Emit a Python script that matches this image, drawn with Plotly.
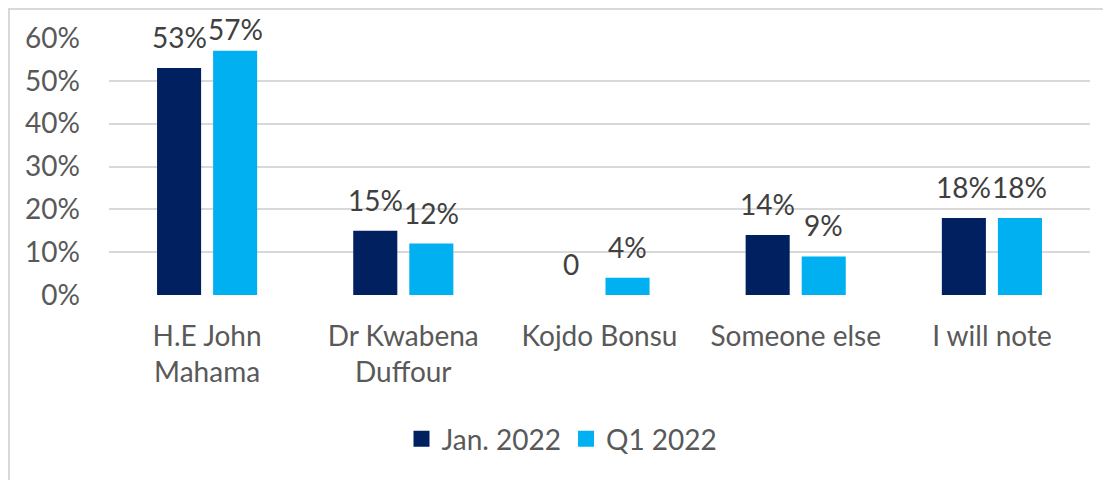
import plotly.graph_objects as go

categories = ["H.E John<br>Mahama", "Dr Kwabena<br>Duffour", "Kojdo Bonsu", "Someone else", "I will note"]
series_names = ["Jan. 2022", "Q1 2022"]
jan_values = [0.53, 0.15, 0.0, 0.14, 0.18]
q1_values = [0.57, 0.12, 0.04, 0.09, 0.18]
jan_labels = ["53%", "15%", "0", "14%", "18%"]
q1_labels = ["57%", "12%", "4%", "9%", "18%"]
y_tickvals = [0, 0.1, 0.2, 0.3, 0.4, 0.5, 0.6]
y_ticktext = ["0%", "10%", "20%", "30%", "40%", "50%", "60%"]

NAVY = "#002060"
SKY = "#00B0F0"
TEXT = "#595959"
LABEL = "#404040"
GRID = "#D9D9D9"
FONT = "Lato"
FS = 28

# the page body adds an 8px offset, so the figure is sized to fit inside the window
W, H = 1103, 472
ML, MR, MT, MB = 101, 21, 30, 185
BARGAP = 0.4286
BARGROUPGAP = 0.214
YMAX = 0.6

fig = go.Figure()
fig.add_trace(go.Bar(x=categories, y=jan_values, name=series_names[0], marker_color=NAVY,
                     marker_line_width=0, showlegend=False))
fig.add_trace(go.Bar(x=categories, y=q1_values, name=series_names[1], marker_color=SKY,
                     marker_line_width=0, showlegend=False))
# legend entries with larger square markers
for nm, col in zip(series_names, [NAVY, SKY]):
    fig.add_trace(go.Scatter(x=[None], y=[None], mode="markers", name=nm,
                             marker=dict(symbol="square", size=18, color=col)))

plot_w = W - ML - MR
plot_h = H - MT - MB
cat_w = plot_w / len(categories)
offset = cat_w * (1 - BARGAP) / 4

annotations = []
for vals, labs, sign in [(jan_values, jan_labels, -1), (q1_values, q1_labels, 1)]:
    for c, v, t in zip(categories, vals, labs):
        bar_top_px = MT + plot_h * (1 - v / YMAX)
        baseline = max(bar_top_px - 20, 32)
        shift = (bar_top_px - baseline) - 8
        annotations.append(dict(x=c, y=v, xref="x", yref="y", text=t, showarrow=False,
                                xshift=sign * offset, yshift=shift, yanchor="bottom",
                                font=dict(family=FONT, size=FS, color=LABEL)))

fig.update_layout(
    width=W, height=H,
    margin=dict(l=ML, r=MR, t=MT, b=MB),
    paper_bgcolor="white", plot_bgcolor="white",
    barmode="group", bargap=BARGAP, bargroupgap=BARGROUPGAP,
    font=dict(family=FONT, size=FS, color=TEXT),
    annotations=annotations,
    legend=dict(orientation="h", x=(562 - 8 - ML) / plot_w, xanchor="center",
                y=(H - MB - (439 - 8)) / plot_h, yanchor="middle",
                font=dict(family=FONT, size=FS, color=TEXT), itemwidth=30),
    shapes=[dict(type="rect", xref="paper", yref="paper",
                 x0=(1 - ML) / plot_w, x1=(W + 20 - ML) / plot_w,
                 y0=(H - MB - (H + 20)) / plot_h, y1=(H - MB - 1) / plot_h,
                 line=dict(color=GRID, width=2), fillcolor="rgba(0,0,0,0)", layer="below")],
)
fig.update_yaxes(range=[0, YMAX], tickvals=y_tickvals, ticktext=y_ticktext,
                 showgrid=True, gridcolor=GRID, gridwidth=2, zeroline=False,
                 showline=False, ticks="", ticklabelstandoff=28,
                 tickfont=dict(family=FONT, size=FS, color=TEXT))
fig.update_xaxes(showgrid=False, showline=False, ticks="", ticklabelstandoff=22,
                 tickfont=dict(family=FONT, size=FS, color=TEXT))

fig.write_html("out.html")
